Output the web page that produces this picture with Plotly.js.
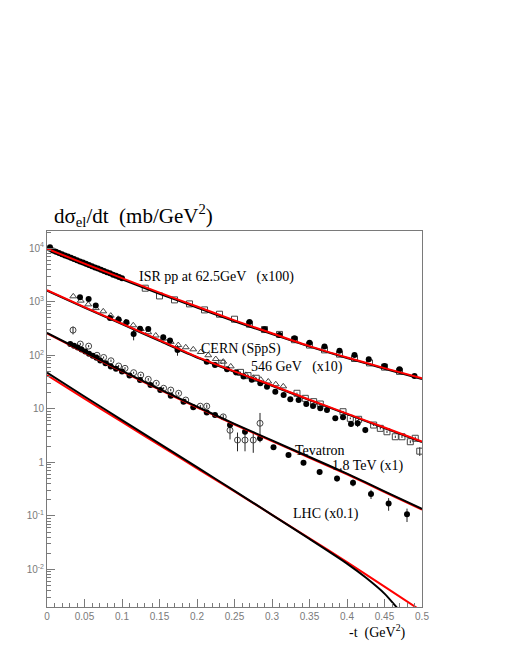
<!DOCTYPE html>
<html>
<head>
<meta charset="utf-8">
<script src="https://cdn.plot.ly/plotly-3.0.1.min.js"></script>
<style>html,body{margin:0;padding:0;background:#fff;}#chart{width:505px;height:654px;}</style>
</head>
<body>
<div id="chart"></div>
<script>
// ---------- model curves ----------
const modelT = [0, 0.05, 0.1, 0.15, 0.2, 0.25, 0.3, 0.35, 0.4, 0.45, 0.5];
const isrRed   = [9770, 5130, 2750, 1480, 813, 447, 257, 148, 91, 57.5, 37];
const isrBlack = [9330, 4900, 2630, 1410, 776, 431, 248, 145, 89, 56, 36];
const cernRed   = [1640, 794, 389, 191, 93.3, 50.1, 27.5, 14.8, 8.13, 4.47, 2.45];
const cernBlack = [1600, 776, 380, 186, 91, 49, 26.9, 14.5, 7.95, 4.37, 2.4];
const tevBlack = [263, 115, 51.3, 23.4, 11.0, 5.25, 2.57, 1.26, 0.617, 0.288, 0.135];
const tevRed   = [255, 112, 50, 22.8, 10.7, 5.1, 2.5, 1.22, 0.6, 0.28, 0.131];
const lhcBlackT = [0, 0.05, 0.1, 0.15, 0.2, 0.25, 0.3, 0.35, 0.4, 0.425, 0.45, 0.475];
const lhcBlack  = [47.3, 17.0, 6.17, 2.24, 0.813, 0.295, 0.105, 0.0372, 0.0129, 0.00708, 0.00355, 0.00141];
const lhcRedT = [0, 0.05, 0.1, 0.15, 0.2, 0.25, 0.3, 0.35, 0.4, 0.45, 0.5];
const lhcRed  = [42.7, 15.5, 5.69, 2.09, 0.776, 0.288, 0.105, 0.038, 0.0138, 0.00479, 0.00166];

// ---------- ISR data (x100) ----------
const isrDenseT = [0.004, 0.008, 0.012, 0.016, 0.020, 0.024, 0.028, 0.032, 0.036, 0.040, 0.044, 0.048, 0.052,
  0.056, 0.060, 0.064, 0.068, 0.072, 0.076, 0.080, 0.084, 0.088, 0.092, 0.096, 0.100];
const isrDense = [10400, 9000, 8550, 8120, 7700, 7300, 6950, 6600, 6280, 5950, 5650, 5370, 5100,
  4840, 4600, 4370, 4150, 3940, 3740, 3550, 3380, 3200, 3040, 2890, 2740];
const isrSqT = [0.131, 0.150, 0.170, 0.190, 0.210, 0.230, 0.250, 0.270, 0.290, 0.310, 0.330, 0.350, 0.370,
  0.390, 0.410, 0.430, 0.450, 0.470];
const isrSq = [1787, 1282, 1081, 910, 703, 584, 471, 380, 302, 245, 195, 155, 126, 105, 87, 72, 60, 50];
const isrDotT = [0.270, 0.290, 0.310, 0.330, 0.350, 0.370, 0.390, 0.410, 0.429, 0.450, 0.470, 0.490];
const isrDot = [419, 306, 239, 208, 172, 145, 122, 101, 84, 63, 55, 41];

// ---------- CERN SppS data (x10) ----------
const cernDotT = [0.044, 0.0555, 0.065, 0.084, 0.0955, 0.106, 0.1155, 0.124, 0.135, 0.155, 0.164, 0.174,
  0.213, 0.224, 0.240, 0.252, 0.262, 0.273, 0.2844, 0.2933, 0.3044, 0.3155, 0.3244, 0.3355, 0.3457,
  0.3547, 0.3644, 0.3733, 0.3844, 0.3947, 0.4053, 0.4142, 0.4244];
const cernDot = [1213, 1128, 845, 498, 463, 414, 250, 314, 310, 217, 188, 126,
  76, 66, 55, 48, 40, 35, 30, 25.9, 20.9, 18.1, 15.1, 14.6, 12.3,
  11.3, 10.2, 9.5, 6.64, 6.93, 5.2, 5.36, 4.02];
const cernDotErr = [60, 60, 50, 30, 25, 25, 60, 25, 30, 25, 20, 28,
  6, 5, 4, 4, 3, 3, 2.5, 2, 1.8, 1.5, 1.3, 1.3, 1.1,
  1, 1, 0.9, 0.7, 0.7, 0.6, 0.8, 0.5];
const cernTriT = [0.035, 0.045, 0.055, 0.065, 0.075, 0.085, 0.095, 0.105, 0.115, 0.125, 0.135, 0.145,
  0.155, 0.165, 0.175, 0.185, 0.195, 0.205, 0.215, 0.225, 0.235, 0.245, 0.255, 0.265, 0.275, 0.285,
  0.295, 0.305, 0.315];
const cernTri = [1259, 1047, 891, 759, 661, 550, 479, 417, 363, 309, 269, 234,
  204, 178, 155, 141, 129, 115, 100, 85, 76, 62, 46, 43, 38, 35, 32.4, 28.8, 26.3];
const cernSqT = [0.233, 0.258, 0.268, 0.279, 0.3333, 0.3444, 0.3555, 0.3644, 0.3947, 0.4044, 0.4155,
  0.4355, 0.4444, 0.4533, 0.4644, 0.4733, 0.4844, 0.491, 0.497];
const cernSq = [70.8, 47.9, 41.7, 37.2, 19.5, 15.7, 13.6, 12.3, 8.83, 6.64, 6.37,
  4.98, 4.32, 3.73, 3.01, 3.01, 2.43, 2.82, 1.62];
const cernSqErr = [2, 1.5, 1.3, 1.2, 0.6, 0.5, 0.4, 0.4, 0.3, 0.25, 0.25,
  0.2, 0.2, 0.2, 0.15, 0.15, 0.15, 0.2, 0.3];

// ---------- Tevatron data (x1) ----------
const tevOpenT = [0.0347, 0.0444, 0.0555, 0.0667, 0.0755, 0.0853, 0.0955, 0.104, 0.1155, 0.125, 0.135,
  0.1457, 0.1555, 0.165, 0.1755, 0.185, 0.2044, 0.213, 0.235, 0.244, 0.254, 0.264, 0.275, 0.284];
const tevOpen = [295, 162, 148, 100, 91, 79, 63, 57, 47.3, 42.7, 35.5,
  30, 24.2, 22.4, 19.5, 14.6, 11.2, 11.2, 7.08, 3.98, 2.61, 2.61, 2.61, 5.37];
const tevOpenErr = [50, 8, 7, 5, 4, 4, 3, 3, 2, 2, 2,
  1.5, 1.2, 1.1, 1, 0.8, 0.6, 0.8, 0.7, 1.3, 1.0, 1.0, 1.1, 3.0];
const tevDotT = [0.031, 0.036, 0.041, 0.046, 0.051, 0.056, 0.061, 0.066, 0.071, 0.078, 0.085, 0.092,
  0.100, 0.110, 0.124, 0.138, 0.151, 0.165, 0.182, 0.195, 0.213, 0.224, 0.244, 0.264, 0.284, 0.302,
  0.322, 0.342, 0.3635, 0.3867, 0.408, 0.432, 0.4555, 0.480];
const tevDot = [162, 150, 140, 128, 117, 107, 98, 90, 80, 71, 62, 56,
  50, 42, 34.7, 27.9, 22.4, 17.5, 13.5, 10.7, 8.5, 7.66, 5.0, 3.73, 2.81, 1.91,
  1.37, 0.984, 0.66, 0.50, 0.417, 0.257, 0.17, 0.107];
const tevDotErr = [3, 3, 3, 3, 2, 2, 2, 2, 2, 1.5, 1.2, 1.1,
  1, 0.9, 0.8, 0.6, 0.5, 0.4, 0.35, 0.3, 0.3, 0.3, 0.25, 0.2, 0.2, 0.15,
  0.12, 0.1, 0.08, 0.06, 0.06, 0.05, 0.045, 0.03];

// ---------- axis tick labels ----------
const xTickVals = [0, 0.05, 0.1, 0.15, 0.2, 0.25, 0.3, 0.35, 0.4, 0.45, 0.5];
const xTickText = ['0', '0.05', '0.1', '0.15', '0.2', '0.25', '0.3', '0.35', '0.4', '0.45', '0.5'];
const yTickVals = [0.01, 0.1, 1, 10, 100, 1000, 10000];
const yTickText = ['10<sup>-2</sup>', '10<sup>-1</sup>', '1', '10', '10<sup>2</sup>', '10<sup>3</sup>', '10<sup>4</sup>'];

// ---------- labels ----------
const labelTexts = ['ISR pp at 62.5GeV   (x100)', 'CERN (S\u0070\u0304pS)', '546 GeV   (x10)',
  'Tevatron', '1.8 TeV (x1)', 'LHC (x0.1)'];

// ---------- build ----------
const serif = 'Liberation Serif, Times New Roman, serif';
const sans = 'Liberation Sans, Arial, sans-serif';
const axisGrey = '#7a7a7a';

function line(x, y, color, width) {
  return {x: x, y: y, type: 'scatter', mode: 'lines', line: {color: color, width: width, shape: 'spline', smoothing: 0.6},
    hoverinfo: 'skip', showlegend: false};
}
function pts(x, y, symbol, size, err, open) {
  const tr = {x: x, y: y, type: 'scatter', mode: 'markers', showlegend: false,
    marker: {symbol: symbol, size: size, color: open ? '#444' : '#000', line: {color: open ? '#444' : '#000', width: open ? 1 : 0}}};
  if (err) tr.error_y = {type: 'data', array: err, visible: true, color: '#222', thickness: 1, width: 0};
  return tr;
}

const traces = [
  pts(isrDenseT, isrDense, 'circle', 6),
  pts(isrSqT, isrSq, 'square-open', 6, null, true),
  pts(isrDotT, isrDot, 'circle', 6),
  pts(cernTriT, cernTri, 'triangle-up-open', 6, null, true),
  pts(cernSqT, cernSq, 'square-open', 6, cernSqErr, true),
  pts(cernDotT, cernDot, 'circle', 6, cernDotErr),
  pts(tevOpenT, tevOpen, 'circle-open', 6, tevOpenErr, true),
  pts(tevDotT, tevDot, 'circle', 6, tevDotErr),
  line(modelT, isrBlack, '#000', 2),
  line(modelT, isrRed, '#ff0000', 2),
  line(modelT, cernBlack, '#000', 2),
  line(modelT, cernRed, '#ff0000', 2),
  line(modelT, tevRed, '#ff0000', 2),
  line(modelT, tevBlack, '#000', 2),
  line(lhcRedT, lhcRed, '#ff0000', 2),
  line(lhcBlackT, lhcBlack, '#000', 2)
];

const L = 47, R = 83, T = 231, B = 47;
const W = 505 - L - R, H = 654 - T - B;
function px(x) { return (x - L) / W; }
function py(y) { return (654 - B - y) / H; }

function ann(text, x, y, size) {
  return {text: text, xref: 'paper', yref: 'paper', x: px(x), y: py(y), xanchor: 'left', yanchor: 'middle',
    showarrow: false, font: {family: serif, size: size, color: '#000'}};
}

const yMinor = [];
for (let e = -3; e <= 4; e++) {
  for (let m = 2; m <= 9; m++) yMinor.push(m * Math.pow(10, e));
}

const layout = {
  width: 505, height: 654,
  margin: {l: L, r: R, t: T, b: B, pad: 0},
  paper_bgcolor: '#fff', plot_bgcolor: '#fff',
  showlegend: false,
  xaxis: {
    range: [0, 0.5], tickmode: 'array', tickvals: xTickVals, ticktext: xTickText,
    ticks: 'inside', ticklen: 8, tickwidth: 1, tickcolor: axisGrey,
    showline: true, linecolor: axisGrey, linewidth: 1, mirror: true,
    showgrid: false, zeroline: false,
    tickfont: {family: sans, size: 10, color: axisGrey},
    minor: {dtick: 0.01, tick0: 0, ticks: 'inside', ticklen: 4, tickcolor: axisGrey, showgrid: false}
  },
  yaxis: {
    type: 'log', range: [-2.70, 4.32], tickmode: 'array', tickvals: yTickVals, ticktext: yTickText,
    ticks: 'inside', ticklen: 8, tickwidth: 1, tickcolor: axisGrey,
    showline: true, linecolor: axisGrey, linewidth: 1, mirror: true,
    showgrid: false, zeroline: false,
    tickfont: {family: sans, size: 10, color: axisGrey},
    minor: {tickmode: 'array', tickvals: yMinor, ticks: 'inside', ticklen: 4, tickcolor: axisGrey, showgrid: false}
  },
  annotations: [
    ann('d\u03c3<sub>el</sub>/dt  (mb/GeV<sup>2</sup>)', 52, 216, 21),
    ann(labelTexts[0], 137, 277, 14),
    ann(labelTexts[1], 199, 349, 14),
    ann(labelTexts[2], 249, 367, 14),
    ann(labelTexts[3], 293, 450, 14),
    ann(labelTexts[4], 330, 466, 14),
    ann(labelTexts[5], 291, 514, 14),
    ann('-t  (GeV<sup>2</sup>)', 347, 631, 14)
  ]
};

Plotly.newPlot('chart', traces, layout, {staticPlot: true, displayModeBar: false});
</script>
</body>
</html>
